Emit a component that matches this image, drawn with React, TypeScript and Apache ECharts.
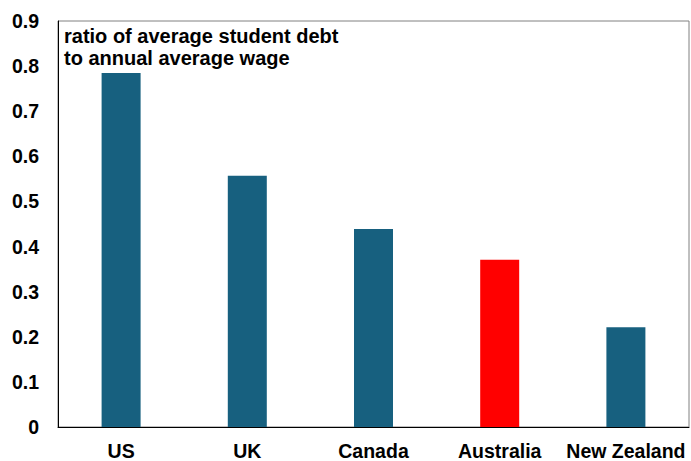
import React, { useEffect, useRef } from "react";
import * as echarts from "echarts";

const categories = ["US", "UK", "Canada", "Australia", "New Zealand"];
const values = [0.785, 0.557, 0.439, 0.371, 0.221];
const barColors = ["#17607f", "#17607f", "#17607f", "#ff0000", "#17607f"];
const annotationLines = ["ratio of average student debt", "to annual average wage"];

export default function App() {
  const ref = useRef<HTMLDivElement>(null);
  useEffect(() => {
    if (!ref.current) return;
    const chart = echarts.init(ref.current, null, { renderer: "svg" });
    const font = "'Liberation Sans', Arial, sans-serif";
    chart.setOption({
      animation: false,
      grid: {
        left: 58,
        right: 2,
        top: 21,
        bottom: 32,
        show: true,
        borderColor: "#808080",
        borderWidth: 1,
      },
      xAxis: {
        type: "category",
        data: categories,
        axisLine: { show: true, lineStyle: { color: "#000", width: 1 } },
        axisTick: { show: false },
        axisLabel: {
          color: "#000",
          fontFamily: font,
          fontWeight: "bold",
          fontSize: 19.5,
          margin: 14,
          interval: 0,
        },
      },
      yAxis: {
        type: "value",
        min: 0,
        max: 0.9,
        interval: 0.1,
        splitLine: { show: false },
        axisLine: { show: true, lineStyle: { color: "#000", width: 1 } },
        axisTick: { show: false },
        axisLabel: {
          color: "#000",
          fontFamily: font,
          fontWeight: "bold",
          fontSize: 19.5,
          margin: 19,
          formatter: (v: number) => (v === 0 ? "0" : v.toFixed(1)),
        },
      },
      series: [
        {
          type: "bar",
          barWidth: 39,
          data: values.map((v, i) => ({ value: v, itemStyle: { color: barColors[i] } })),
        },
      ],
      graphic: [
        {
          type: "text",
          left: 64,
          top: 25,
          style: {
            text: annotationLines.join("\n"),
            fontFamily: font,
            fontWeight: "bold",
            fontSize: 20,
            lineHeight: 22,
            fill: "#000",
          },
        },
      ],
    });
    return () => chart.dispose();
  }, []);
  return <div ref={ref} style={{ width: 691, height: 461, position: "absolute", left: 0, top: 0 }} />;
}
